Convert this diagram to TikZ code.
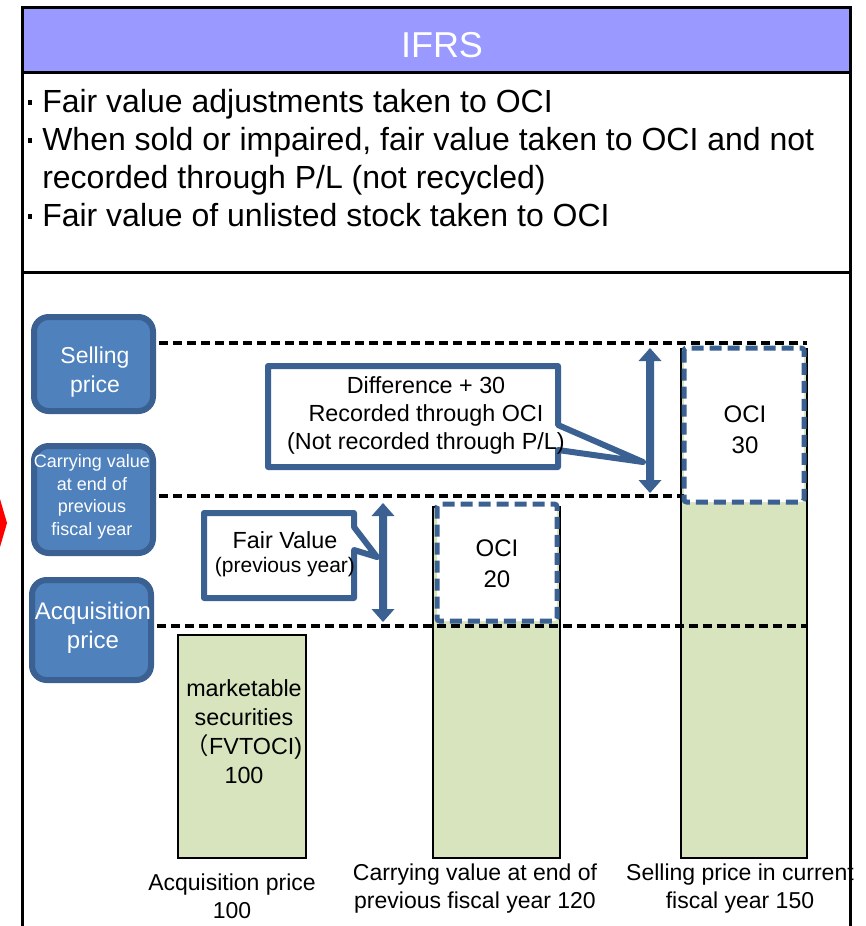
\documentclass[tikz,border=0pt]{standalone}
\usepackage{fontspec}
\setmainfont{Liberation Sans}
\newfontfamily\cjkfont{Noto Sans CJK JP}
\definecolor{hdrfill}{HTML}{9999FF}
\definecolor{bluefill}{HTML}{4F81BD}
\definecolor{blueedge}{HTML}{3B6092}
\definecolor{barfill}{HTML}{D7E4BD}
\newcommand\fs[2]{\fontsize{#1}{#2}\selectfont}
% small square list mark
\newcommand\listmark{\makebox[12.75pt][l]{\hspace{2pt}\rule[5.6pt]{3.4pt}{3.4pt}}}
\begin{document}
\begin{tikzpicture}[x=0.75pt,y=-0.75pt,
  frameline/.style={draw=black,line width=2.25pt},
  levelbox/.style={draw=blueedge,fill=bluefill,line width=4.5pt,rounded corners=11pt,
    minimum width=89.25pt,inner sep=0pt},
  leveltext/.style={text=white,align=center,inner sep=0pt},
  levelline/.style={draw=black,line width=2.6pt,dash pattern=on 7pt off 3.5pt},
  bar/.style={draw=black,fill=barfill,line width=1.5pt},
  ocibox/.style={draw=blueedge,fill=white,line width=3.75pt,dash pattern=on 9pt off 4.5pt,rounded corners=2pt},
  callout/.style={draw=blueedge,fill=white,line width=4.5pt,line join=round},
  dblarrow/.style={fill=blueedge},
  plain/.style={inner sep=0pt,align=center},
  bullet/.style={anchor=base west,inner sep=0pt,font=\fs{24}{28}},
]
\useasboundingbox (0,0) rectangle (866,926);

% red marker cut by the left edge
\fill[red] (0,499) -- (7,523) -- (0,547) -- cycle;

% header band
\fill[hdrfill] (22,7) rectangle (850,72);
\node[text=white,font=\fs{27}{32}] (title) at (442,45) {IFRS};

% bullet list
\node[bullet] (b1) at (25,112) {\listmark Fair value adjustments taken to OCI};
\node[bullet] (b2) at (25,150) {\listmark When sold or impaired, fair value taken to OCI and not};
\node[bullet] (b3) at (25,188) {\makebox[12.75pt][l]{}recorded through P/L (not recycled)};
\node[bullet] (b4) at (25,226) {\listmark Fair value of unlisted stock taken to OCI};

% value bars
\draw[bar] (178,635) rectangle (306,858);
\draw[bar] (433,507) rectangle (560,858);
\draw[bar] (681,349) rectangle (807,858);

% price level boxes
\node[levelbox,minimum height=70.5pt] (sellbox) at (93.5,364) {};
\node[levelbox,minimum height=80.25pt] (carrybox) at (93.5,499.5) {};
\node[levelbox,minimum height=75pt] (acqbox) at (91.5,630) {};
\node[leveltext,font=\fs{17.25}{21.75}] (selltxt) at (95,372) {Selling\\price};
\node[leveltext,font=\fs{13.5}{17}] (carrytxt) at (92,497) {Carrying value\\at end of\\previous\\fiscal year};
\node[leveltext,font=\fs{18}{21.75}] (acqtxt) at (93,628) {Acquisition\\price};

% level lines
\coordinate (sellR) at (807,343);
\coordinate (carryR) at (684,496);
\coordinate (acqR) at (807,626);
\draw[levelline] (sellbox.east |- sellR) ++(3,0) -- (sellR);
\draw[levelline] (carrybox.east |- carryR) ++(3,0) -- (carryR);
\draw[levelline] (acqbox.east |- acqR) ++(3,0) -- (acqR);

% OCI portions
\draw[ocibox] (437,504) rectangle (557,621);
\node[plain,font=\fs{18}{23.25}] (oci20) at (497,564) {OCI\\20};
\draw[ocibox] (684,348) rectangle (804,502);
\node[plain,font=\fs{18}{23.25}] (oci30) at (745,430) {OCI\\30};

% double arrows
\fill[dblarrow] (650,348) -- (661.5,361) -- (654,361) -- (654,480) -- (661.5,480) -- (650,493)
  -- (638.5,480) -- (646,480) -- (646,361) -- (638.5,361) -- cycle;
\fill[dblarrow] (383,503) -- (394.5,516) -- (387,516) -- (387,609) -- (394.5,609) -- (383,622)
  -- (371.5,609) -- (379,609) -- (379,516) -- (371.5,516) -- cycle;

% callouts
\draw[callout] (268,366) -- (558,366) -- (558,425) -- (643,462) -- (558,450) -- (558,467)
  -- (268,467) -- cycle;
\node[plain,font=\fs{17.5}{21}] (diff) at (426,415)
  {Difference + 30\\Recorded through OCI\\(Not recorded through P/L)};
\draw[callout] (204,513) -- (354,513) -- (354,527) -- (377,557) -- (354,550) -- (354,598)
  -- (204,598) -- cycle;
\node[plain,font=\fs{17.5}{21}] (fv) at (285,540) {Fair Value};
\node[plain,font=\fs{15.75}{19}] (fvyear) at (285,567) {(previous year)};

% bar contents and captions
\node[plain,font=\fs{17.5}{21.75}] (sec) at (244,731.5)
  {marketable\\securities\\{\cjkfont （}FVTOCI)\\100};
\node[plain,font=\fs{17.25}{21}] (lab1) at (232,896) {Acquisition price\\100};
\node[plain,font=\fs{17.25}{21}] (lab2) at (475,889) {Carrying value at end of\\previous fiscal year 120};
\node[plain,font=\fs{17.25}{21}] (lab3) at (740,889) {Selling price in current\\fiscal year 150};

% outer frame
\draw[frameline] (22,926) -- (22,7) -- (850,7) -- (850,926);
\draw[frameline] (22,72) -- (850,72);
\draw[frameline] (22,272) -- (850,272);
\end{tikzpicture}
\end{document}
